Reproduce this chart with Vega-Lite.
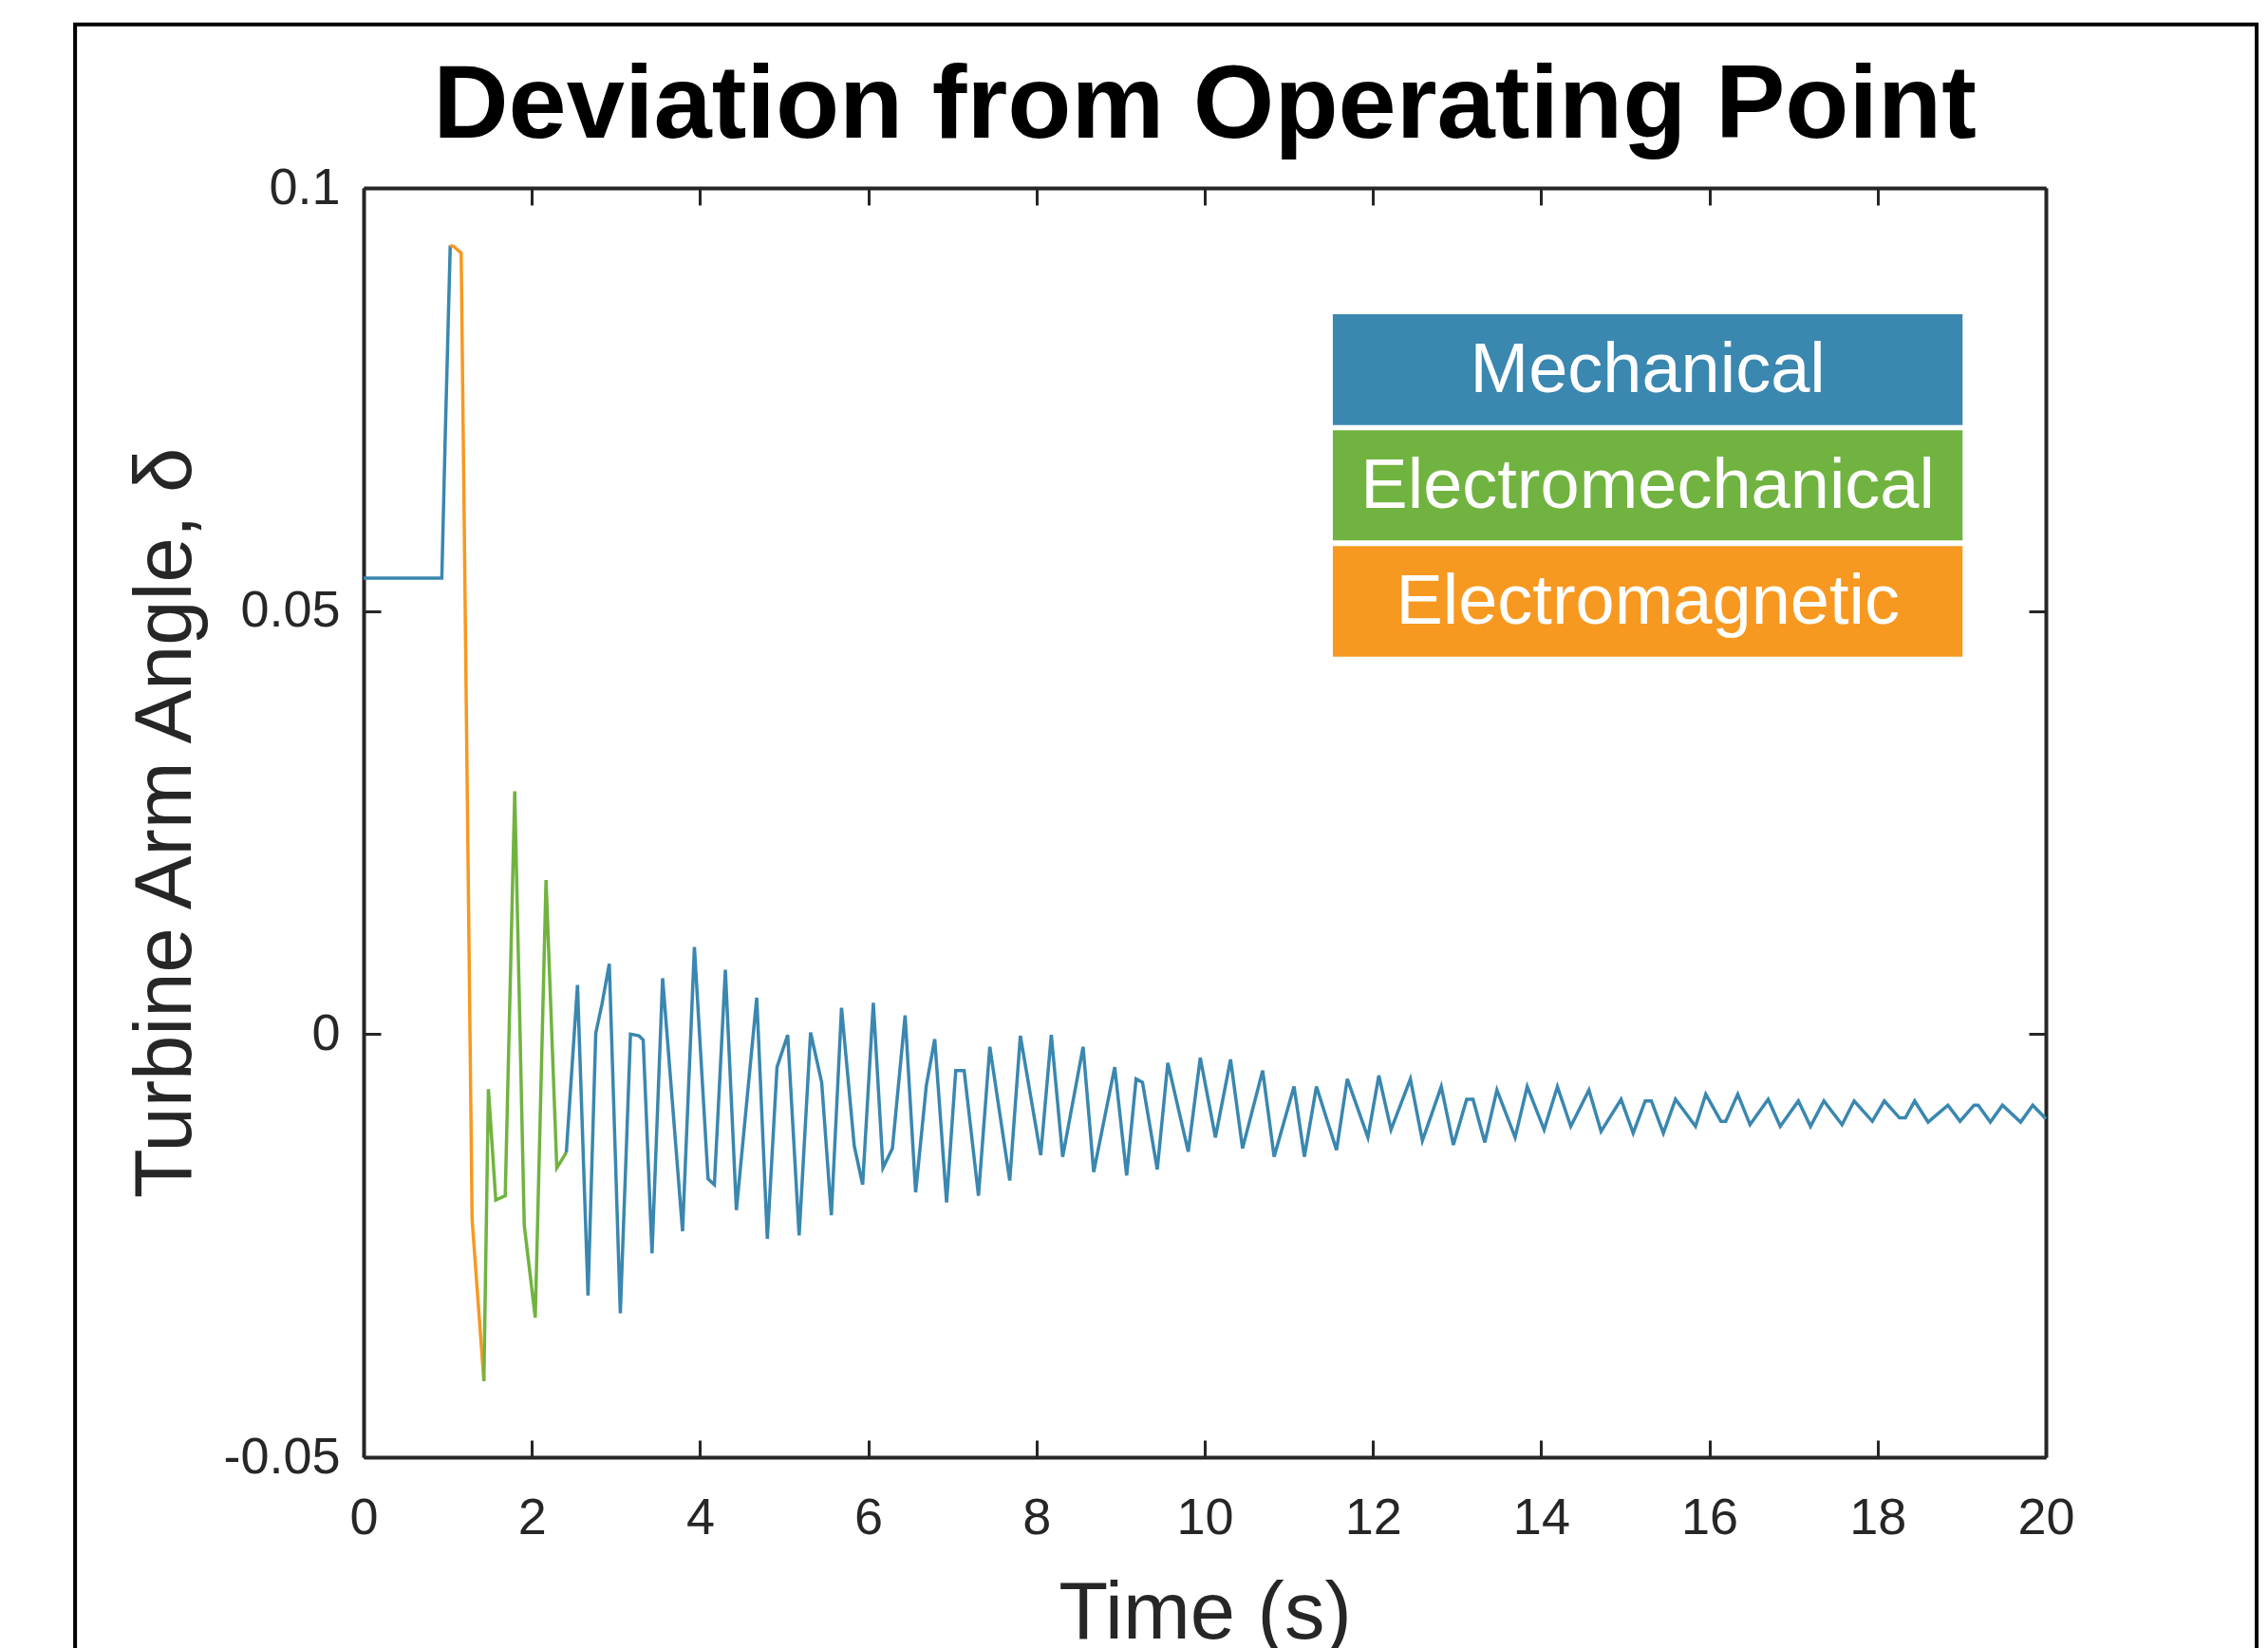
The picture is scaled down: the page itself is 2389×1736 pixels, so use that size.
{
  "$schema": "https://vega.github.io/schema/vega-lite/v6.json",
  "width": 1772,
  "height": 1337,
  "autosize": {"type": "none"},
  "padding": {"left": 383, "top": 198, "right": 234, "bottom": 201},
  "background": "white",
  "title": {"text": "Deviation from Operating Point", "font": "Liberation Sans", "fontSize": 110, "fontWeight": "bold", "color": "#000000", "anchor": "middle", "frame": "group", "baseline": "alphabetic", "offset": -128, "dy": 103},
  "datasets": {
    "signal": [
      {"t":0,"v":0.0539,"s":"Mechanical","g":1},
      {"t":0.93,"v":0.0539,"s":"Mechanical","g":1},
      {"t":0.97,"v":0.0704,"s":"Mechanical","g":1},
      {"t":1.03,"v":0.0932,"s":"Mechanical","g":1},
      {"t":1.03,"v":0.0932,"s":"Electromagnetic","g":2},
      {"t":1.07,"v":0.0931,"s":"Electromagnetic","g":2},
      {"t":1.16,"v":0.0923,"s":"Electromagnetic","g":2},
      {"t":1.29,"v":-0.0219,"s":"Electromagnetic","g":2},
      {"t":1.43,"v":-0.0410,"s":"Electromagnetic","g":2},
      {"t":1.43,"v":-0.0410,"s":"Electromechanical","g":3},
      {"t":1.484,"v":-0.0065,"s":"Electromechanical","g":3},
      {"t":1.571,"v":-0.0196,"s":"Electromechanical","g":3},
      {"t":1.684,"v":-0.0191,"s":"Electromechanical","g":3},
      {"t":1.797,"v":0.0287,"s":"Electromechanical","g":3},
      {"t":1.91,"v":-0.0226,"s":"Electromechanical","g":3},
      {"t":2.041,"v":-0.0335,"s":"Electromechanical","g":3},
      {"t":2.169,"v":0.0182,"s":"Electromechanical","g":3},
      {"t":2.297,"v":-0.0158,"s":"Electromechanical","g":3},
      {"t":2.41,"v":-0.0140,"s":"Electromechanical","g":3},
      {"t":2.41,"v":-0.0140,"s":"Mechanical","g":4},
      {"t":2.543,"v":0.0058,"s":"Mechanical","g":4},
      {"t":2.668,"v":-0.0309,"s":"Mechanical","g":4},
      {"t":2.76,"v":0.0001,"s":"Mechanical","g":4},
      {"t":2.835,"v":0.0036,"s":"Mechanical","g":4},
      {"t":2.921,"v":0.0083,"s":"Mechanical","g":4},
      {"t":3.052,"v":-0.0330,"s":"Mechanical","g":4},
      {"t":3.173,"v":0.0000,"s":"Mechanical","g":4},
      {"t":3.273,"v":-0.0002,"s":"Mechanical","g":4},
      {"t":3.324,"v":-0.0007,"s":"Mechanical","g":4},
      {"t":3.429,"v":-0.0259,"s":"Mechanical","g":4},
      {"t":3.555,"v":0.0066,"s":"Mechanical","g":4},
      {"t":3.792,"v":-0.0233,"s":"Mechanical","g":4},
      {"t":3.933,"v":0.0103,"s":"Mechanical","g":4},
      {"t":4.095,"v":-0.0171,"s":"Mechanical","g":4},
      {"t":4.170,"v":-0.0178,"s":"Mechanical","g":4},
      {"t":4.301,"v":0.0076,"s":"Mechanical","g":4},
      {"t":4.432,"v":-0.0208,"s":"Mechanical","g":4},
      {"t":4.674,"v":0.0043,"s":"Mechanical","g":4},
      {"t":4.80,"v":-0.0242,"s":"Mechanical","g":4},
      {"t":4.915,"v":-0.0039,"s":"Mechanical","g":4},
      {"t":5.042,"v":-0.0001,"s":"Mechanical","g":4},
      {"t":5.178,"v":-0.0238,"s":"Mechanical","g":4},
      {"t":5.314,"v":0.0002,"s":"Mechanical","g":4},
      {"t":5.446,"v":-0.0057,"s":"Mechanical","g":4},
      {"t":5.561,"v":-0.0214,"s":"Mechanical","g":4},
      {"t":5.682,"v":0.0031,"s":"Mechanical","g":4},
      {"t":5.833,"v":-0.0132,"s":"Mechanical","g":4},
      {"t":5.933,"v":-0.0178,"s":"Mechanical","g":4},
      {"t":6.06,"v":0.0037,"s":"Mechanical","g":4},
      {"t":6.175,"v":-0.0158,"s":"Mechanical","g":4},
      {"t":6.287,"v":-0.0135,"s":"Mechanical","g":4},
      {"t":6.438,"v":0.0022,"s":"Mechanical","g":4},
      {"t":6.563,"v":-0.0187,"s":"Mechanical","g":4},
      {"t":6.69,"v":-0.0061,"s":"Mechanical","g":4},
      {"t":6.79,"v":-0.0006,"s":"Mechanical","g":4},
      {"t":6.931,"v":-0.0199,"s":"Mechanical","g":4},
      {"t":7.04,"v":-0.0043,"s":"Mechanical","g":4},
      {"t":7.14,"v":-0.0043,"s":"Mechanical","g":4},
      {"t":7.31,"v":-0.0191,"s":"Mechanical","g":4},
      {"t":7.445,"v":-0.0015,"s":"Mechanical","g":4},
      {"t":7.682,"v":-0.0173,"s":"Mechanical","g":4},
      {"t":7.808,"v":-0.0002,"s":"Mechanical","g":4},
      {"t":8.05,"v":-0.0143,"s":"Mechanical","g":4},
      {"t":8.176,"v":-0.0001,"s":"Mechanical","g":4},
      {"t":8.311,"v":-0.0145,"s":"Mechanical","g":4},
      {"t":8.554,"v":-0.0015,"s":"Mechanical","g":4},
      {"t":8.68,"v":-0.0163,"s":"Mechanical","g":4},
      {"t":8.93,"v":-0.0039,"s":"Mechanical","g":4},
      {"t":9.072,"v":-0.0167,"s":"Mechanical","g":4},
      {"t":9.184,"v":-0.0053,"s":"Mechanical","g":4},
      {"t":9.26,"v":-0.0057,"s":"Mechanical","g":4},
      {"t":9.436,"v":-0.0160,"s":"Mechanical","g":4},
      {"t":9.561,"v":-0.0034,"s":"Mechanical","g":4},
      {"t":9.804,"v":-0.0139,"s":"Mechanical","g":4},
      {"t":9.947,"v":-0.0028,"s":"Mechanical","g":4},
      {"t":10.127,"v":-0.0122,"s":"Mechanical","g":4},
      {"t":10.307,"v":-0.0030,"s":"Mechanical","g":4},
      {"t":10.45,"v":-0.0135,"s":"Mechanical","g":4},
      {"t":10.689,"v":-0.0043,"s":"Mechanical","g":4},
      {"t":10.825,"v":-0.0145,"s":"Mechanical","g":4},
      {"t":11.062,"v":-0.0062,"s":"Mechanical","g":4},
      {"t":11.185,"v":-0.0145,"s":"Mechanical","g":4},
      {"t":11.328,"v":-0.0062,"s":"Mechanical","g":4},
      {"t":11.567,"v":-0.0137,"s":"Mechanical","g":4},
      {"t":11.695,"v":-0.0053,"s":"Mechanical","g":4},
      {"t":11.94,"v":-0.0122,"s":"Mechanical","g":4},
      {"t":12.07,"v":-0.0049,"s":"Mechanical","g":4},
      {"t":12.215,"v":-0.0113,"s":"Mechanical","g":4},
      {"t":12.445,"v":-0.0053,"s":"Mechanical","g":4},
      {"t":12.588,"v":-0.0126,"s":"Mechanical","g":4},
      {"t":12.812,"v":-0.0062,"s":"Mechanical","g":4},
      {"t":12.956,"v":-0.0131,"s":"Mechanical","g":4},
      {"t":13.114,"v":-0.0077,"s":"Mechanical","g":4},
      {"t":13.19,"v":-0.0077,"s":"Mechanical","g":4},
      {"t":13.33,"v":-0.0128,"s":"Mechanical","g":4},
      {"t":13.474,"v":-0.0066,"s":"Mechanical","g":4},
      {"t":13.69,"v":-0.0122,"s":"Mechanical","g":4},
      {"t":13.834,"v":-0.0062,"s":"Mechanical","g":4},
      {"t":14.035,"v":-0.0113,"s":"Mechanical","g":4},
      {"t":14.193,"v":-0.0062,"s":"Mechanical","g":4},
      {"t":14.352,"v":-0.0109,"s":"Mechanical","g":4},
      {"t":14.568,"v":-0.0066,"s":"Mechanical","g":4},
      {"t":14.712,"v":-0.0115,"s":"Mechanical","g":4},
      {"t":14.95,"v":-0.0077,"s":"Mechanical","g":4},
      {"t":15.094,"v":-0.0117,"s":"Mechanical","g":4},
      {"t":15.237,"v":-0.0079,"s":"Mechanical","g":4},
      {"t":15.31,"v":-0.0079,"s":"Mechanical","g":4},
      {"t":15.453,"v":-0.0117,"s":"Mechanical","g":4},
      {"t":15.597,"v":-0.0077,"s":"Mechanical","g":4},
      {"t":15.835,"v":-0.0109,"s":"Mechanical","g":4},
      {"t":15.957,"v":-0.0071,"s":"Mechanical","g":4},
      {"t":16.137,"v":-0.0103,"s":"Mechanical","g":4},
      {"t":16.194,"v":-0.0103,"s":"Mechanical","g":4},
      {"t":16.337,"v":-0.0071,"s":"Mechanical","g":4},
      {"t":16.483,"v":-0.0107,"s":"Mechanical","g":4},
      {"t":16.699,"v":-0.0077,"s":"Mechanical","g":4},
      {"t":16.842,"v":-0.0109,"s":"Mechanical","g":4},
      {"t":17.058,"v":-0.0079,"s":"Mechanical","g":4},
      {"t":17.202,"v":-0.0109,"s":"Mechanical","g":4},
      {"t":17.361,"v":-0.0079,"s":"Mechanical","g":4},
      {"t":17.577,"v":-0.0107,"s":"Mechanical","g":4},
      {"t":17.721,"v":-0.0079,"s":"Mechanical","g":4},
      {"t":17.937,"v":-0.0103,"s":"Mechanical","g":4},
      {"t":18.08,"v":-0.0079,"s":"Mechanical","g":4},
      {"t":18.26,"v":-0.0099,"s":"Mechanical","g":4},
      {"t":18.33,"v":-0.0099,"s":"Mechanical","g":4},
      {"t":18.44,"v":-0.0079,"s":"Mechanical","g":4},
      {"t":18.6,"v":-0.0104,"s":"Mechanical","g":4},
      {"t":18.836,"v":-0.0084,"s":"Mechanical","g":4},
      {"t":18.98,"v":-0.0103,"s":"Mechanical","g":4},
      {"t":19.146,"v":-0.0084,"s":"Mechanical","g":4},
      {"t":19.196,"v":-0.0084,"s":"Mechanical","g":4},
      {"t":19.34,"v":-0.0104,"s":"Mechanical","g":4},
      {"t":19.484,"v":-0.0084,"s":"Mechanical","g":4},
      {"t":19.7,"v":-0.0104,"s":"Mechanical","g":4},
      {"t":19.844,"v":-0.0084,"s":"Mechanical","g":4},
      {"t":20,"v":-0.0100,"s":"Mechanical","g":4}
    ],
    "boxes": [
      {"series": "Mechanical"},
      {"series": "Electromechanical"},
      {"series": "Electromagnetic"}
    ],
    "frame": [{"name": "border"}]
  },
  "resolve": {"axis": {"x": "independent", "y": "independent"}},
  "layer": [
    {
      "data": {"name": "frame"},
      "mark": {"type": "rect", "fill": null, "stroke": "#000000", "strokeWidth": 4},
      "encoding": {
        "x": {"datum": -3.43, "type": "quantitative", "axis": {"orient": "top", "labels": false, "title": null, "values": [0,2,4,6,8,10,12,14,16,18,20]}},
        "x2": {"datum": 22.506},
        "y": {"datum": 0.11932, "type": "quantitative", "axis": {"orient": "right", "labels": false, "title": null, "values": [-0.05,0,0.05,0.1]}},
        "y2": {"datum": -0.09}
      }
    },
    {
      "data": {"name": "signal"},
      "mark": {"type": "line", "strokeWidth": 3.5, "strokeJoin": "miter", "strokeMiterLimit": 4},
      "encoding": {
        "x": {"field": "t", "type": "quantitative", "scale": {"domain": [0, 20], "nice": false, "zero": false},
              "axis": {"orient": "bottom", "values": [0,2,4,6,8,10,12,14,16,18,20], "labelPadding": 55, "labelFlush": false, "labelOverlap": false, "title": "Time (s)", "titlePadding": 32}},
        "y": {"field": "v", "type": "quantitative", "scale": {"domain": [-0.05, 0.1], "nice": false, "zero": false},
              "axis": {"orient": "left", "values": [-0.05,0,0.05,0.1], "labelPadding": 43, "labelExpr": "replace(format(datum.value, '.2~f'), '\u2212', '-')", "title": "Turbine Arm Angle, δ", "titlePadding": 16}},
        "color": {"field": "s", "type": "nominal", "legend": null,
                  "scale": {"domain": ["Mechanical", "Electromechanical", "Electromagnetic"], "range": ["#3A87B0", "#71B340", "#F79921"]}},
        "detail": {"field": "g", "type": "nominal"}
      }
    },
    {
      "data": {"name": "boxes"},
      "transform": [{"filter": "datum.series === 'Mechanical'"}],
      "mark": {"type": "rect"},
      "encoding": {
        "x": {"datum": 11.523, "axis": null}, "x2": {"datum": 19.01},
        "y": {"datum": 0.085078, "axis": null}, "y2": {"datum": 0.071986},
        "color": {"field": "series", "type": "nominal", "legend": null}
      }
    },
    {
      "data": {"name": "boxes"},
      "transform": [{"filter": "datum.series === 'Electromechanical'"}],
      "mark": {"type": "rect"},
      "encoding": {
        "x": {"datum": 11.523, "axis": null}, "x2": {"datum": 19.01},
        "y": {"datum": 0.071357, "axis": null}, "y2": {"datum": 0.058343},
        "color": {"field": "series", "type": "nominal", "legend": null}
      }
    },
    {
      "data": {"name": "boxes"},
      "transform": [{"filter": "datum.series === 'Electromagnetic'"}],
      "mark": {"type": "rect"},
      "encoding": {
        "x": {"datum": 11.523, "axis": null}, "x2": {"datum": 19.01},
        "y": {"datum": 0.05767, "axis": null}, "y2": {"datum": 0.044611},
        "color": {"field": "series", "type": "nominal", "legend": null}
      }
    },
    {
      "data": {"name": "boxes"},
      "transform": [{"filter": "datum.series === 'Mechanical'"}],
      "mark": {"type": "text", "font": "Liberation Sans", "fontSize": 74, "color": "#FFFFFF", "align": "center", "baseline": "alphabetic"},
      "encoding": {
        "x": {"datum": 15.267, "axis": null},
        "y": {"datum": 0.075912, "axis": null},
        "text": {"field": "series"}
      }
    },
    {
      "data": {"name": "boxes"},
      "transform": [{"filter": "datum.series === 'Electromechanical'"}],
      "mark": {"type": "text", "font": "Liberation Sans", "fontSize": 74, "color": "#FFFFFF", "align": "center", "baseline": "alphabetic"},
      "encoding": {
        "x": {"datum": 15.267, "axis": null},
        "y": {"datum": 0.062192, "axis": null},
        "text": {"field": "series"}
      }
    },
    {
      "data": {"name": "boxes"},
      "transform": [{"filter": "datum.series === 'Electromagnetic'"}],
      "mark": {"type": "text", "font": "Liberation Sans", "fontSize": 74, "color": "#FFFFFF", "align": "center", "baseline": "alphabetic"},
      "encoding": {
        "x": {"datum": 15.267, "axis": null},
        "y": {"datum": 0.048538, "axis": null},
        "text": {"field": "series"}
      }
    }
  ],
  "config": {
    "view": {"stroke": null},
    "axis": {
      "grid": false,
      "domainColor": "#262626", "domainWidth": 4,
      "tickColor": "#262626", "tickWidth": 3, "tickSize": -18,
      "labelFont": "Liberation Sans", "labelFontSize": 54, "labelColor": "#262626",
      "titleFont": "Liberation Sans", "titleFontSize": 85, "titleColor": "#262626", "titleFontWeight": "normal"
    }
  }
}
